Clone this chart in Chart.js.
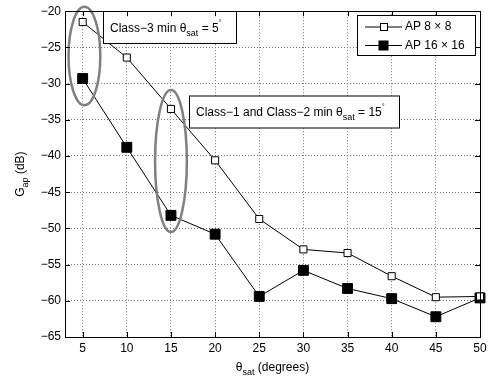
<!DOCTYPE html>
<html>
<head>
<meta charset="utf-8">
<script src="https://cdn.jsdelivr.net/npm/chart.js@4/dist/chart.umd.min.js"></script>
<style>
body { margin: 0; background: #fff; }
</style>
</head>
<body>
<canvas id="c" width="491" height="384"></canvas>
<script>
// data
var thetaSat = [5, 10, 15, 20, 25, 30, 35, 40, 45, 50];
var ap8 = [-21.5, -26.4, -33.5, -40.6, -48.7, -52.9, -53.4, -56.6, -59.5, -59.4];
var ap16 = [-29.3, -38.8, -48.2, -50.8, -59.4, -55.8, -58.3, -59.7, -62.2, -59.6];
var seriesNames = ['AP 8 \u00d7 8', 'AP 16 \u00d7 16'];
var xTicks = [5, 10, 15, 20, 25, 30, 35, 40, 45, 50];
var yTicks = [-65, -60, -55, -50, -45, -40, -35, -30, -25, -20];

var FONT = '"Liberation Sans", Arial, Helvetica, sans-serif';

function pts(ys) {
    return thetaSat.map(function(x, i) { return { x: x, y: ys[i] }; });
}
function minusFmt(v) {
    return String(v).replace('-', '\u2212');
}

// text with sub/superscripts, x = left, y = baseline
function richWidth(ctx, parts, size) {
    var w = 0;
    parts.forEach(function(p) {
        var fs = p[1] == 'sub' ? size * 0.75 : (p[1] == 'sup' ? size * 0.6 : size);
        ctx.font = fs + 'px ' + FONT;
        w += ctx.measureText(p[0]).width;
    });
    return w;
}
function drawRich(ctx, parts, x, y, size) {
    ctx.textAlign = 'left';
    ctx.textBaseline = 'alphabetic';
    parts.forEach(function(p) {
        var fs = p[1] == 'sub' ? size * 0.75 : (p[1] == 'sup' ? size * 0.6 : size);
        var dy = p[1] == 'sub' ? size * 0.35 : (p[1] == 'sup' ? -size * 0.6 : 0);
        ctx.font = fs + 'px ' + FONT;
        ctx.fillText(p[0], x, y + dy);
        x += ctx.measureText(p[0]).width;
    });
}

var decor = {
    id: 'decor',
    afterDatasetsDraw: function(chart) {
        var ctx = chart.ctx, a = chart.chartArea;
        var xs = chart.scales.x, ys = chart.scales.y;
        ctx.save();

        // ellipses round the minimum angles (data coords)
        ctx.strokeStyle = '#808080';
        ctx.lineWidth = 2.5;
        [[5.2, -26.2, 1.8, 6.8], [15, -40.7, 1.8, 9.8]].forEach(function(e) {
            var cx = xs.getPixelForValue(e[0]), cy = ys.getPixelForValue(e[1]);
            var rx = xs.getPixelForValue(e[0] + e[2]) - cx;
            var ry = ys.getPixelForValue(e[1] - e[3]) - cy;
            ctx.beginPath();
            ctx.ellipse(cx, cy, rx, ry, 0, 0, Math.PI * 2);
            ctx.stroke();
        });

        // annotation boxes
        ctx.lineWidth = 1;
        ctx.strokeStyle = '#000';
        ctx.fillStyle = '#000';
        var notes = [
            { box: [103.5, 11.5, 133, 32], tx: 110, ty: 32,
              parts: [['Class\u22123 min \u03b8', ''], ['sat', 'sub'], [' = 5', ''], ['\u00b0', 'sup']] },
            { box: [189.5, 96, 210, 32], tx: 196, ty: 116,
              parts: [['Class\u22121 and Class\u22122 min \u03b8', ''], ['sat', 'sub'], [' = 15', ''], ['\u00b0', 'sup']] }
        ];
        notes.forEach(function(n) {
            ctx.fillStyle = '#fff';
            ctx.fillRect(n.box[0], n.box[1], n.box[2], n.box[3]);
            ctx.strokeRect(n.box[0], n.box[1], n.box[2], n.box[3]);
            ctx.fillStyle = '#000';
            drawRich(ctx, n.parts, n.tx, n.ty, 12);
        });

        // axes frame + inward ticks on all sides
        ctx.strokeStyle = '#000';
        ctx.lineWidth = 1;
        ctx.strokeRect(Math.round(a.left) + 0.5, Math.round(a.top) + 0.5,
            Math.round(a.right - a.left), Math.round(a.bottom - a.top));
        ctx.beginPath();
        xTicks.forEach(function(v) {
            var px = Math.round(xs.getPixelForValue(v)) + 0.5;
            ctx.moveTo(px, a.bottom); ctx.lineTo(px, a.bottom - 5);
            ctx.moveTo(px, a.top); ctx.lineTo(px, a.top + 5);
        });
        yTicks.forEach(function(v) {
            var py = Math.round(ys.getPixelForValue(v)) + 0.5;
            ctx.moveTo(a.left, py); ctx.lineTo(a.left + 5, py);
            ctx.moveTo(a.right, py); ctx.lineTo(a.right - 5, py);
        });
        ctx.stroke();

        // legend
        var lb = [357.5, 15.5, 118, 40];
        ctx.fillStyle = '#fff';
        ctx.fillRect(lb[0], lb[1], lb[2], lb[3]);
        ctx.strokeRect(lb[0], lb[1], lb[2], lb[3]);
        [27, 45.5].forEach(function(ry, i) {
            ctx.strokeStyle = '#000';
            ctx.lineWidth = 1;
            ctx.beginPath();
            ctx.moveTo(365, ry); ctx.lineTo(402, ry);
            ctx.stroke();
            if (i == 0) {
                ctx.fillStyle = '#fff';
                ctx.fillRect(380.5, ry - 3.5, 7, 7);
                ctx.strokeRect(380.5, ry - 3.5, 7, 7);
            } else {
                ctx.fillStyle = '#000';
                ctx.fillRect(378.5, ry - 5, 10, 10);
            }
            ctx.fillStyle = '#000';
            ctx.font = '12px ' + FONT;
            ctx.textAlign = 'left';
            ctx.textBaseline = 'middle';
            ctx.fillText(seriesNames[i], 405, ry);
        });

        // axis titles
        ctx.fillStyle = '#000';
        var xt = [['\u03b8', ''], ['sat', 'sub'], [' (degrees)', '']];
        var w = richWidth(ctx, xt, 12);
        drawRich(ctx, xt, (a.left + a.right) / 2 - w / 2, 371, 12);

        var yt = [['G', ''], ['ap', 'sub'], [' (dB)', '']];
        w = richWidth(ctx, yt, 12);
        ctx.translate(24, (a.top + a.bottom) / 2);
        ctx.rotate(-Math.PI / 2);
        drawRich(ctx, yt, -w / 2, 0, 12);

        ctx.restore();
    }
};

new Chart(document.getElementById('c'), {
    type: 'scatter',
    data: {
        datasets: [{
            label: seriesNames[0],
            data: pts(ap8),
            showLine: true,
            borderColor: '#000',
            borderWidth: 1,
            pointStyle: 'rect',
            pointRadius: 5,
            pointBackgroundColor: '#fff',
            pointBorderColor: '#000',
            pointBorderWidth: 1,
            clip: false
        }, {
            label: seriesNames[1],
            data: pts(ap16),
            showLine: true,
            borderColor: '#000',
            borderWidth: 1,
            pointStyle: 'rect',
            pointRadius: 7,
            pointBackgroundColor: '#000',
            pointBorderColor: '#000',
            pointBorderWidth: 1,
            clip: false
        }]
    },
    options: {
        responsive: false,
        animation: false,
        layout: { padding: { left: 0, right: 11, top: 10, bottom: 0 } },
        plugins: { legend: { display: false }, tooltip: { enabled: false } },
        scales: {
            x: {
                type: 'linear',
                min: 3,
                max: 50,
                afterBuildTicks: function(s) { s.ticks = xTicks.map(function(v) { return { value: v }; }); },
                afterFit: function(s) { s.height = 47; },
                ticks: { color: '#000', font: { family: FONT, size: 12 }, padding: 4, maxRotation: 0, autoSkip: false, callback: minusFmt },
                grid: { color: '#777', lineWidth: 1, drawTicks: false },
                border: { display: false, dash: [1, 2] }
            },
            y: {
                min: -65,
                max: -20,
                afterBuildTicks: function(s) { s.ticks = yTicks.map(function(v) { return { value: v }; }); },
                afterFit: function(s) { s.width = 65; },
                ticks: { color: '#000', font: { family: FONT, size: 12 }, padding: 4, autoSkip: false, callback: minusFmt },
                grid: { color: '#777', lineWidth: 1, drawTicks: false },
                border: { display: false, dash: [1, 2] }
            }
        }
    },
    plugins: [decor]
});
</script>
</body>
</html>
